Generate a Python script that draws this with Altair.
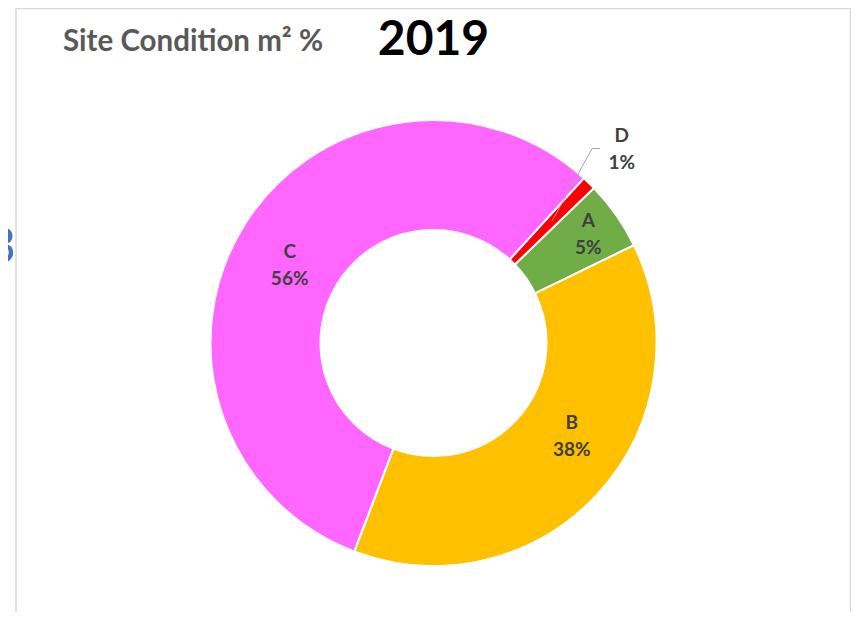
import math
import altair as alt
import pandas as pd

# ---- data ----
cats = ["A", "B", "C", "D"]
pct = [5, 38, 56, 1]
colors = ["#70AD47", "#FFC000", "#FF66FF", "#FF0000"]
title_text = "Site Condition m² %"
year_text = "2019"

df = pd.DataFrame({
    "cat": cats,
    "pct": pct,
    "idx": list(range(len(cats))),
    "lbl": [f"{c}\n{p}%" for c, p in zip(cats, pct)],
})

# ---- layout ----
W, H = 836, 604
CX, CY = 418.5, 335
R_OUT, R_IN = 223, 113
START_DEG = 46
start = math.radians(START_DEG)
theta_scale = alt.Scale(range=[start, start + 2 * math.pi])
FONT = "Lato"
LABEL_COLOR = "#404040"
LH = 27

base = alt.Chart(df).encode(
    theta=alt.Theta("pct:Q", stack=True, scale=theta_scale),
    order=alt.Order("idx:Q", sort="ascending"),
)

arc = base.mark_arc(outerRadius=R_OUT, innerRadius=R_IN, stroke="white", strokeWidth=2).encode(
    x=alt.value(CX), y=alt.value(CY),
    color=alt.Color("cat:N", scale=alt.Scale(domain=cats, range=colors), legend=None),
)


def label_layer(cat, radius, dx=0, dy=0):
    return base.mark_text(
        radius=radius, font=FONT, fontWeight="bold", fontSize=19, color=LABEL_COLOR,
        lineBreak="\n", lineHeight=LH, align="center", baseline="middle",
        dx=dx, dy=dy - LH / 2,
    ).encode(
        x=alt.value(CX), y=alt.value(CY),
        text=alt.Text("t:N"), detail="cat:N",
    ).transform_calculate(t=f"datum.cat == '{cat}' ? datum.lbl : ''")


lab_a = label_layer("A", 189)
lab_b = label_layer("B", 167, dx=15, dy=-19)
lab_c = label_layer("C", 163, dx=-5, dy=8)
lab_d = label_layer("D", 270)

# leader line for the D label, derived from the D slice's mid angle
total = sum(pct)
cum_before_d = sum(pct[:3])
mid_deg = START_DEG + 360 * (cum_before_d + pct[3] / 2) / total
elbow_deg = mid_deg - 5
p1 = (CX + 170 * math.sin(math.radians(mid_deg)), CY - 170 * math.cos(math.radians(mid_deg)))
p2 = (CX + 251 * math.sin(math.radians(elbow_deg)), CY - 251 * math.cos(math.radians(elbow_deg)))
p3 = (p2[0] + 8, p2[1])
lead_df = pd.DataFrame({"k": [0, 1, 2], "lx": [p1[0], p2[0], p3[0]], "ly": [p1[1], p2[1], p3[1]]})
leader = alt.Chart(lead_df).mark_line(color="#A6A6A6", strokeWidth=1).encode(
    x=alt.X("lx:Q", scale=None, axis=None),
    y=alt.Y("ly:Q", scale=None, axis=None),
    order="k:Q",
)

one = pd.DataFrame({"a": [0]})
frame = alt.Chart(one).mark_rect(filled=False, stroke="#D9D9D9", strokeWidth=1.5).encode(
    x=alt.value(1), x2=alt.value(835.5), y=alt.value(0.5), y2=alt.value(680)
)
title = alt.Chart(one).mark_text(
    text=title_text, align="left", baseline="alphabetic", font=FONT, fontSize=29.5,
    fontWeight="bold", color="#595959",
).encode(x=alt.value(48), y=alt.value(43))
year = alt.Chart(one).mark_text(
    text=year_text, align="center", baseline="alphabetic", font=FONT, fontSize=48,
    fontWeight="bold", color="#000000",
).encode(x=alt.value(418.5), y=alt.value(47))
three = alt.Chart(one).mark_text(
    text="3", align="right", baseline="alphabetic", font=FONT, fontSize=50,
    color="#4472C4",
).encode(x=alt.value(1), y=alt.value(255))

chart = alt.layer(frame, arc, leader, lab_a, lab_b, lab_c, lab_d, title, year, three).properties(
    width=W, height=H,
    autosize=alt.AutoSizeParams(type="none"),
    padding={"left": 7, "top": 0, "right": 0, "bottom": 0},
).configure_view(strokeWidth=0)

chart.save("out.html", embed_options={"renderer": "svg", "actions": False})
